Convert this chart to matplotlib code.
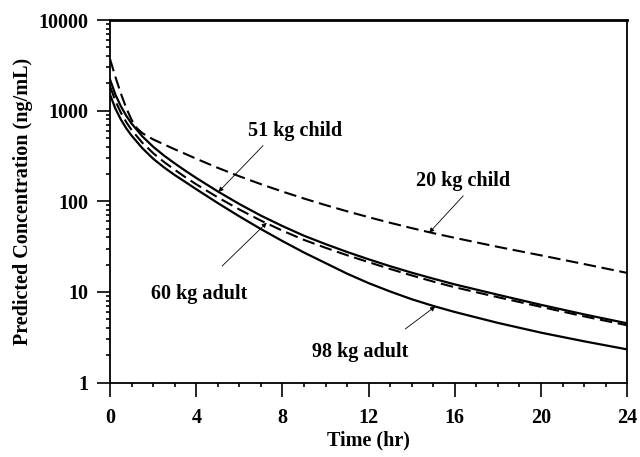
import numpy as np
import matplotlib.pyplot as plt
from matplotlib.ticker import FixedLocator, LogLocator, NullFormatter

# Tiempos (hr) y concentraciones predichas (ng/mL)
tiempo = [0, 0.25, 0.5, 0.75, 1, 1.25, 1.5, 2, 2.5, 3, 3.5, 4, 5, 6, 7, 8, 9, 10,
          11, 12, 13, 14, 15, 16, 18, 20, 22, 24]
nino_20kg = [3700, 2350, 1550, 1070, 790, 640, 565, 482, 425, 375, 333, 295, 234, 189,
             154.6, 128.1, 107.3, 90.8, 77.6, 66.8, 57.9, 50.6, 44.5, 39.5, 31.4, 25.3, 20.3, 16.2]
nino_51kg = [2200, 1500, 1120, 880, 720, 612, 520, 400, 320, 262, 217, 181, 128.5, 93.3,
             69.5, 53.3, 41.7, 33.7, 27.6, 22.9, 19.2, 16.3, 14.0, 12.1, 9.3, 7.2, 5.65, 4.5]
adulto_60kg = [1850, 1275, 952, 748, 612, 520, 442, 340, 272, 223, 184, 154, 110.5, 81.2,
               61.2, 47.4, 37.5, 30.7, 25.4, 21.3, 17.9, 15.2, 13.0, 11.25, 8.74, 6.84, 5.37, 4.28]
adulto_98kg = [1500, 1050, 800, 640, 530, 452, 385, 295, 237, 195, 163, 136, 95.6, 68.2,
               49.4, 36.4, 27.2, 20.8, 15.9, 12.5, 10.1, 8.3, 7.0, 6.0, 4.55, 3.55, 2.85, 2.32]

plt.rcParams["font.family"] = "Liberation Serif"
plt.rcParams["font.weight"] = "bold"

fig = plt.figure(figsize=(6.4, 4.57), dpi=100)
ax = fig.add_axes([0.172, 0.163, 0.808, 0.793])

guion = (0, (6, 2.7))
ax.plot(tiempo, nino_20kg, color="black", lw=1.5, ls=guion)
ax.plot(tiempo, nino_51kg, color="black", lw=1.6)
ax.plot(tiempo, adulto_60kg, color="black", lw=1.5, ls=guion)
ax.plot(tiempo, adulto_98kg, color="black", lw=1.6)

ax.set_yscale("log")
ax.set_ylim(1, 10000)
ax.set_xlim(0, 24)

ax.set_yticks([1, 10, 100, 1000, 10000])
ax.set_yticklabels(["1", "10", "100", "1000", "10000"])
ax.yaxis.set_minor_locator(LogLocator(base=10, subs=np.arange(2, 10)))
ax.yaxis.set_minor_formatter(NullFormatter())
ax.set_xticks([0, 4, 8, 12, 16, 20, 24])
ax.xaxis.set_minor_locator(FixedLocator(np.arange(0, 25, 1)))

ax.tick_params(axis="x", which="major", direction="out", length=10, width=1.2, pad=8, labelsize=14.5)
ax.tick_params(axis="x", which="minor", direction="out", length=3, width=1.2)
ax.tick_params(axis="y", which="major", direction="out", length=9.5, width=1.2, pad=6, labelsize=14.5)
ax.tick_params(axis="y", which="minor", direction="out", length=3, width=1.2)

for s in ax.spines.values():
    s.set_linewidth(1.3)
ax.spines["top"].set_linewidth(2)

ax.set_xlabel("Time (hr)", fontsize=14.5, fontweight="bold", labelpad=2)
ax.set_ylabel("Predicted Concentration (ng/mL)", fontsize=14.5, fontweight="bold", labelpad=4)

flecha = dict(arrowstyle="-|>", color="black", lw=0.6, mutation_scale=7, shrinkA=0, shrinkB=0)
ax.annotate("", xy=(5.03, 127), xytext=(7.1, 412), arrowprops=flecha)
ax.text(8.6, 604, "51 kg child", ha="center", va="center", fontsize=14.5, fontweight="bold")
ax.annotate("", xy=(7.27, 58), xytext=(5.2, 19.3), arrowprops=flecha)
ax.text(4.15, 9.4, "60 kg adult", ha="center", va="center", fontsize=14.5, fontweight="bold")
ax.annotate("", xy=(14.81, 45), xytext=(16.39, 115), arrowprops=flecha)
ax.text(16.4, 169, "20 kg child", ha="center", va="center", fontsize=14.5, fontweight="bold")
ax.annotate("", xy=(15.09, 6.9), xytext=(13.7, 3.9), arrowprops=flecha)
ax.text(11.6, 2.15, "98 kg adult", ha="center", va="center", fontsize=14.5, fontweight="bold")

fig.savefig("out.png", dpi=100)
